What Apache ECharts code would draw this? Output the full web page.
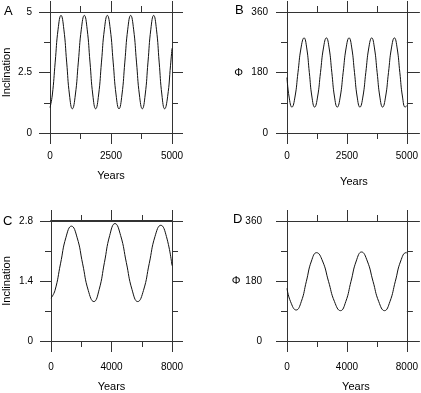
<!DOCTYPE html>
<html>
<head>
<meta charset="utf-8">
<script src="https://cdn.jsdelivr.net/npm/echarts@6/dist/echarts.min.js"></script>
<style>
  html, body { margin: 0; padding: 0; background: #fff; }
  #chart { width: 421px; height: 393px; }
</style>
</head>
<body>
<div id="chart"></div>
<script>
// values
const yearsA = [0, 95, 213, 332, 451, 567, 683, 799, 915, 1038, 1161, 1284, 1407, 1523, 1639, 1755, 1871,
  1991, 2110, 2230, 2350, 2470, 2589, 2709, 2828, 2948, 3067, 3187, 3306, 3426, 3545, 3665, 3784,
  3900, 4016, 4133, 4249, 4362, 4474, 4587, 4699, 4820, 4940, 5000];
const inclA = [1.05, 1.57, 2.93, 4.29, 4.86, 4.29, 2.93, 1.57, 1.0, 1.57, 2.93, 4.29, 4.86, 4.29, 2.93, 1.57, 1.0,
  1.57, 2.93, 4.29, 4.86, 4.29, 2.93, 1.57, 1.0, 1.57, 2.93, 4.29, 4.86, 4.29, 2.93, 1.57, 1.0,
  1.57, 2.93, 4.29, 4.86, 4.29, 2.93, 1.57, 1.0, 1.5, 2.8, 3.5];

const yearsB = [0, 88, 205, 332, 458, 585, 712, 822, 931, 1041, 1151, 1274, 1397, 1521, 1644, 1757, 1870, 1983, 2096,
  2219, 2342, 2466, 2589, 2702, 2815, 2928, 3041, 3164, 3287, 3411, 3534, 3647, 3760, 3874, 3987,
  4110, 4233, 4357, 4480, 4593, 4706, 4819, 4932, 5000];
const phiB = [165, 107, 77, 107, 180, 253, 283, 253, 180, 107, 77, 107, 180, 253, 283, 253, 180, 107, 77,
  107, 180, 253, 283, 253, 180, 107, 77, 107, 180, 253, 283, 253, 180, 107, 77,
  107, 180, 253, 283, 253, 180, 107, 77, 82];

const yearsC = [0, 264, 627, 990, 1352, 1722, 2093, 2464, 2834, 3183, 3532, 3880, 4229, 4605, 4981, 5357, 5733,
  6114, 6496, 6877, 7259, 7630, 8000];
const inclC = [1.0, 1.18, 1.8, 2.42, 2.68, 2.42, 1.8, 1.18, 0.92, 1.2, 1.83, 2.46, 2.74, 2.46, 1.83, 1.2, 0.92,
  1.18, 1.81, 2.44, 2.70, 2.44, 1.76];

const yearsD = [0, 238, 613, 953, 1292, 1632, 1971, 2371, 2770, 3170, 3570, 3921, 4272, 4622, 4973,
  5357, 5741, 6124, 6508, 6868, 7229, 7589, 7950, 8000];
const phiD = [158, 118, 93, 118, 179, 240, 265, 240, 179, 118, 91, 118, 179, 240, 267,
  240, 179, 118, 91, 118, 179, 240, 265, 264];

const xTicksA = { max: 5000, interval: 2500 };
const xTicksC = { max: 8000, interval: 4000 };
const yTicksIncA = { max: 5, interval: 2.5 };
const yTicksIncC = { max: 2.8, interval: 1.4 };
const yTicksPhi = { max: 360, interval: 180 };

const font = "'Liberation Sans', Arial, sans-serif";
const lineCol = '#333';

function pairs(xs, ys) {
  return xs.map((x, i) => [x, ys[i]]);
}

function xAxis(grid, ticks, pos, opt) {
  opt = opt || {};
  return {
    type: 'value', gridIndex: grid, position: pos,
    min: 0, max: ticks.max, interval: ticks.interval,
    axisLine: { onZero: false, lineStyle: { color: lineCol, width: opt.lineWidth || 1 } },
    axisTick: { show: true, length: 11, lineStyle: { color: lineCol } },
    minorTick: { show: true, splitNumber: 2, length: 6, lineStyle: { color: lineCol } },
    splitLine: { show: false },
    axisLabel: { show: pos === 'bottom', margin: opt.margin || 18, fontSize: 10, color: '#000', fontFamily: font,
      formatter: v => String(v) },
    name: pos === 'bottom' ? 'Years' : '',
    nameLocation: 'middle', nameGap: opt.nameGap || 37,
    nameTextStyle: { fontSize: 11, color: '#000', fontFamily: font, padding: opt.namePad || 0 }
  };
}

function yAxis(grid, ticks, pos, opt) {
  opt = opt || {};
  return {
    type: 'value', gridIndex: grid, position: pos,
    min: 0, max: ticks.max, interval: ticks.interval,
    axisLine: { onZero: false, lineStyle: { color: lineCol } },
    axisTick: { show: true, length: opt.tickLen || 11, lineStyle: { color: lineCol } },
    minorTick: { show: true, splitNumber: 2, length: 6, lineStyle: { color: lineCol } },
    splitLine: { show: false },
    axisLabel: { show: pos === 'left', margin: opt.margin || 18, fontSize: 10, color: '#000', fontFamily: font,
      formatter: v => String(v) },
    name: pos === 'left' ? opt.name : '',
    nameLocation: 'middle', nameGap: opt.nameGap || 38, nameRotate: opt.nameRotate,
    nameTextStyle: { fontSize: 11, color: '#000', fontFamily: font }
  };
}

function curve(xi, yi, data) {
  return {
    type: 'line', xAxisIndex: xi, yAxisIndex: yi, data: data,
    smooth: true, showSymbol: false, silent: true,
    lineStyle: { color: '#111', width: 1 }
  };
}

function letter(t, left, top) {
  return { text: t, left: left, top: top, padding: 0,
    textStyle: { fontSize: 13, fontWeight: 'normal', color: '#000', fontFamily: font } };
}

let oChart = echarts.init(document.getElementById('chart'));
let option = {
  animation: false,
  title: [letter('A', 4, 5), letter('B', 235, 4), letter('C', 3, 215), letter('D', 233, 213)],
  grid: [
    { left: 50, top: 12, width: 122, height: 121 },
    { left: 287, top: 12, width: 121, height: 121 },
    { left: 50, top: 221, width: 122, height: 121 },
    { left: 287, top: 221, width: 121, height: 121 }
  ],
  xAxis: [
    xAxis(0, xTicksA, 'bottom', { margin: 18, nameGap: 37 }),
    xAxis(0, xTicksA, 'top'),
    xAxis(1, xTicksA, 'bottom', { margin: 18, nameGap: 43, namePad: [0, 0, 0, 14] }),
    xAxis(1, xTicksA, 'top'),
    xAxis(2, xTicksC, 'bottom', { margin: 21, nameGap: 40 }),
    xAxis(2, xTicksC, 'top', { lineWidth: 2 }),
    xAxis(3, xTicksC, 'bottom', { margin: 21, nameGap: 40, namePad: [0, 0, 0, 18] }),
    xAxis(3, xTicksC, 'top')
  ],
  yAxis: [
    yAxis(0, yTicksIncA, 'left', { name: 'Inclination', nameGap: 38 }),
    yAxis(0, yTicksIncA, 'right'),
    yAxis(1, yTicksPhi, 'left', { name: 'Φ', nameGap: 44, nameRotate: 0, margin: 19 }),
    yAxis(1, yTicksPhi, 'right', { tickLen: 13 }),
    yAxis(2, yTicksIncC, 'left', { name: 'Inclination', nameGap: 39 }),
    yAxis(2, yTicksIncC, 'right'),
    yAxis(3, yTicksPhi, 'left', { name: 'Φ', nameGap: 45, nameRotate: 0, margin: 25 }),
    yAxis(3, yTicksPhi, 'right', { tickLen: 13 })
  ],
  series: [
    curve(0, 0, pairs(yearsA, inclA)),
    curve(2, 2, pairs(yearsB, phiB)),
    curve(4, 4, pairs(yearsC, inclC)),
    curve(6, 6, pairs(yearsD, phiD))
  ]
};
oChart.setOption(option);
</script>
</body>
</html>
